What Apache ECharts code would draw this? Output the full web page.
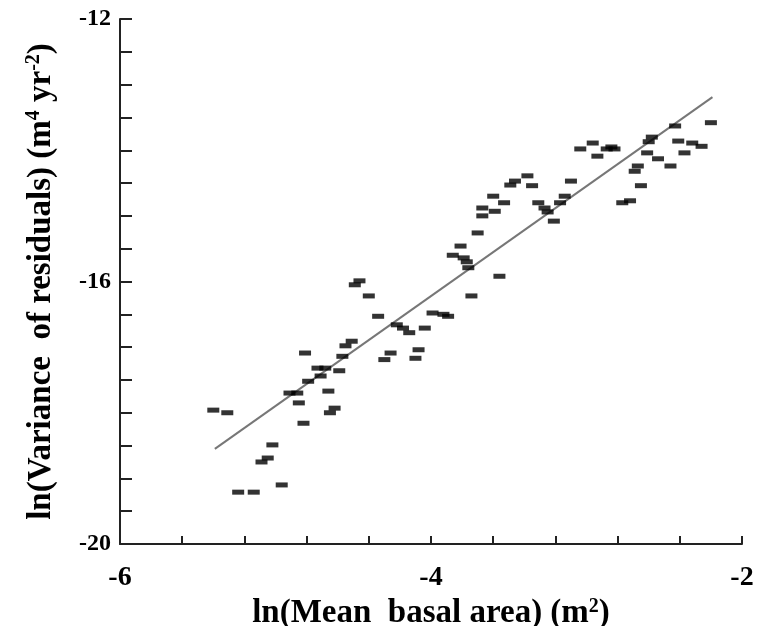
<!DOCTYPE html>
<html>
<head>
<meta charset="utf-8">
<script src="https://cdn.jsdelivr.net/npm/echarts@6/dist/echarts.min.js"></script>
<style>html,body{margin:0;padding:0;background:#fff}#c{width:761px;height:626px}</style>
</head>
<body>
<div id="c"></div>
<script>
// x: ln(Mean basal area), y: ln(Variance of residuals)
const xs = [-5.40,-5.31,-5.24,-5.14,-5.09,-5.05,-5.02,-4.96,-4.91,-4.86,-4.85,-4.82,-4.81,-4.79,-4.73,-4.68,-4.71,-4.66,-4.65,-4.62,-4.59,-4.57,-4.55,-4.51,-4.49,-4.46,-4.40,-4.34,-4.30,-4.26,-4.22,-4.18,-4.14,-4.10,-4.08,-4.04,-3.99,-3.92,-3.89,-3.86,-3.79,-3.77,-3.76,-3.81,-3.70,-3.74,-3.56,-3.67,-3.67,-3.59,-3.60,-3.53,-3.49,-3.46,-3.38,-3.35,-3.31,-3.27,-3.25,-3.21,-3.17,-3.14,-3.10,-3.04,-2.96,-2.93,-2.87,-2.82,-2.84,-2.77,-2.72,-2.69,-2.67,-2.65,-2.61,-2.60,-2.58,-2.54,-2.46,-2.43,-2.41,-2.37,-2.32,-2.26,-2.20];
const ys = [-17.96,-18.00,-19.21,-19.21,-18.75,-18.69,-18.49,-19.10,-17.70,-17.70,-17.85,-18.16,-17.09,-17.52,-17.32,-17.32,-17.44,-17.67,-18.00,-17.93,-17.36,-17.14,-16.98,-16.91,-16.05,-15.99,-16.22,-16.53,-17.19,-17.09,-16.66,-16.71,-16.78,-17.17,-17.04,-16.71,-16.48,-16.50,-16.53,-15.60,-15.64,-15.70,-15.79,-15.46,-15.26,-16.22,-15.92,-15.00,-14.88,-14.93,-14.70,-14.80,-14.53,-14.47,-14.39,-14.54,-14.80,-14.88,-14.94,-15.08,-14.80,-14.70,-14.47,-13.98,-13.89,-14.09,-13.98,-13.98,-13.95,-14.80,-14.77,-14.32,-14.24,-14.54,-14.04,-13.87,-13.80,-14.13,-14.24,-13.63,-13.86,-14.04,-13.89,-13.94,-13.58];
const fitX = [-5.39, -2.19];
const fitY = [-18.55, -13.19];
const xTickLabels = [-6, -4, -2];
const yTickLabels = [-20, -16, -12];

const pts = xs.map((x, i) => [x, ys[i]]);
const fit = fitX.map((x, i) => [x, fitY[i]]);
const near = (v, arr) => arr.some(t => Math.abs(v - t) < 1e-6);
const serif = '"Liberation Serif","Times New Roman",serif';

const chart = echarts.init(document.getElementById('c'), null, {renderer: 'canvas'});
chart.setOption({
  animation: false,
  backgroundColor: '#fff',
  grid: {left: 120, top: 19, right: 19, bottom: 82, containLabel: false, outerBoundsMode: 'none'},
  xAxis: {
    type: 'value', min: -6, max: -2, interval: 0.4,
    axisLine: {show: true, onZero: false, lineStyle: {color: '#222', width: 2}},
    axisTick: {show: true, inside: true, length: 8, lineStyle: {color: '#222', width: 2}},
    splitLine: {show: false},
    axisLabel: {
      margin: 20, color: '#000', fontFamily: serif, fontWeight: 'bold', fontSize: 28,
      formatter: v => near(v, xTickLabels) ? String(Math.round(v)) : ''
    },
    name: '{t|ln(Mean  basal area) (m}{s|2}{t|)}',
    nameLocation: 'middle', nameGap: 42,
    nameTextStyle: {
      rich: {
        t: {fontFamily: serif, fontWeight: 'bold', fontSize: 33, color: '#000'},
        s: {fontFamily: serif, fontWeight: 'bold', fontSize: 20, color: '#000', verticalAlign: 'top', padding: [0, 0, 14, 0]}
      }
    }
  },
  yAxis: {
    type: 'value', min: -20, max: -12, interval: 0.5,
    axisLine: {show: true, onZero: false, lineStyle: {color: '#222', width: 2}},
    axisTick: {show: true, inside: true, length: 12, lineStyle: {color: '#222', width: 2}},
    splitLine: {show: false},
    axisLabel: {
      margin: 9, color: '#000', fontFamily: serif, fontWeight: 'bold', fontSize: 24,
      formatter: v => near(v, yTickLabels) ? String(Math.round(v)) : ''
    },
    name: '{t|ln(Variance  of residuals) (m}{s|4}{t| yr}{s|-2}{t|)}',
    nameLocation: 'middle', nameGap: 62, nameRotate: 90,
    nameTextStyle: {
      rich: {
        t: {fontFamily: serif, fontWeight: 'bold', fontSize: 33, color: '#000'},
        s: {fontFamily: serif, fontWeight: 'bold', fontSize: 20, color: '#000', verticalAlign: 'top', padding: [0, 0, 14, 0]}
      }
    }
  },
  series: [
    {
      type: 'line', data: fit, symbol: 'none', silent: true,
      lineStyle: {color: '#777', width: 2}, z: 1
    },
    {
      type: 'scatter', data: pts, symbol: 'rect', symbolSize: [12, 5],
      itemStyle: {color: '#000'}, z: 2
    }
  ]
});
</script>
</body>
</html>
